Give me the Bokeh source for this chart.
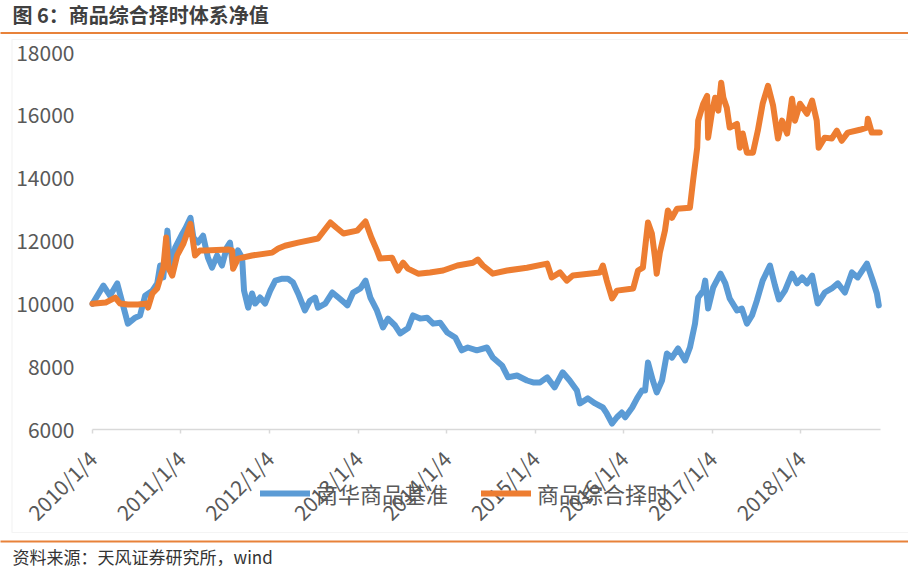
import pandas as pd
from math import pi
from bokeh.plotting import figure
from bokeh.models import (ColumnDataSource, Range1d, FixedTicker, Legend, LegendItem,
                          Label, BoxAnnotation)
from bokeh.embed import file_html
from bokeh.resources import INLINE

title_text = "图 6：商品综合择时体系净值"
source_text = "资料来源：天风证券研究所，wind"
series_names = ["南华商品基准", "商品综合择时"]

blue_dates = [
    "2010-01-04", "2010-02-18", "2010-03-17", "2010-04-16", "2010-05-30", "2010-06-29", "2010-07-19", "2010-08-09", "2010-09-08", "2010-09-28",
    "2010-10-10", "2010-10-23", "2010-11-09", "2010-11-21", "2010-12-11", "2011-01-10", "2011-01-22", "2011-02-12", "2011-02-24", "2011-03-15",
    "2011-04-05", "2011-04-25", "2011-05-12", "2011-06-02", "2011-06-22", "2011-07-12", "2011-07-25", "2011-08-07", "2011-08-27", "2011-09-13",
    "2011-09-21", "2011-10-08", "2011-10-24", "2011-11-06", "2011-11-26", "2011-12-17", "2012-01-07", "2012-01-28", "2012-02-26", "2012-03-20",
    "2012-04-10", "2012-05-01", "2012-05-29", "2012-06-19", "2012-07-10", "2012-07-22", "2012-08-21", "2012-09-19", "2012-10-14", "2012-11-12",
    "2012-11-20", "2012-12-14", "2013-01-13", "2013-02-03", "2013-02-23", "2013-03-22", "2013-04-16", "2013-05-07", "2013-06-05", "2013-06-26",
    "2013-07-28", "2013-08-18", "2013-09-16", "2013-10-15", "2013-11-09", "2013-12-08", "2014-01-06", "2014-02-08", "2014-03-07", "2014-04-01",
    "2014-05-08", "2014-06-19", "2014-07-13", "2014-08-20", "2014-09-14", "2014-10-21", "2014-12-01", "2014-12-26", "2015-01-24", "2015-02-22",
    "2015-03-25", "2015-04-27", "2015-05-26", "2015-06-25", "2015-07-07", "2015-08-09", "2015-09-08", "2015-10-10", "2015-10-26", "2015-11-17",
    "2015-12-07", "2015-12-27", "2016-01-10", "2016-02-08", "2016-02-28", "2016-03-19", "2016-04-01", "2016-04-13", "2016-05-03", "2016-05-19",
    "2016-06-10", "2016-06-30", "2016-07-21", "2016-08-15", "2016-09-13", "2016-10-03", "2016-10-24", "2016-11-06", "2016-11-27", "2016-12-05",
    "2016-12-17", "2017-01-07", "2017-02-06", "2017-02-26", "2017-03-16", "2017-04-15", "2017-05-05", "2017-05-26", "2017-06-16", "2017-07-06",
    "2017-07-30", "2017-08-29", "2017-09-19", "2017-10-05", "2017-10-30", "2017-11-28", "2017-12-19", "2018-01-09", "2018-01-29", "2018-02-19",
    "2018-03-14", "2018-04-12", "2018-05-11", "2018-06-05", "2018-07-04", "2018-08-02", "2018-08-26", "2018-10-03", "2018-10-27", "2018-11-13",
    "2018-11-21",
]
blue_vals = [
    10000, 10580, 10260, 10650, 9370, 9560, 9630, 10260, 10420, 10650,
    11220, 10840, 12330, 11060, 11790, 12240, 12400, 12740, 12110, 11950,
    12170, 11470, 11150, 11540, 11220, 11790, 11950, 11150, 11700, 11470,
    10420, 9880, 10330, 10010, 10200, 10010, 10420, 10740, 10800, 10800,
    10680, 10330, 9790, 10100, 10200, 9880, 10010, 10360, 10200, 10010,
    9950, 10360, 10490, 10740, 10200, 9790, 9250, 9530, 9310, 9060,
    9220, 9630, 9530, 9560, 9370, 9400, 9090, 8930, 8520, 8610,
    8520, 8610, 8290, 8040, 7660, 7720, 7560, 7500, 7500, 7660,
    7340, 7820, 7560, 7240, 6830, 6990, 6830, 6700, 6510, 6190,
    6390, 6540, 6390, 6700, 6990, 7240, 7240, 8130, 7560, 7180,
    7560, 8420, 8290, 8580, 8200, 8610, 9370, 10200, 10420, 10740,
    9850, 10520, 10960, 10650, 10170, 9790, 9850, 9370, 9630, 10100,
    10740, 11220, 10580, 10140, 10420, 10960, 10650, 10840, 10650, 10900,
    10010, 10360, 10490, 10650, 10360, 11000, 10840, 11280, 10740, 10330,
    9950,
]

orange_dates = [
    "2010-01-04", "2010-02-27", "2010-04-08", "2010-04-28", "2010-05-30", "2010-07-11", "2010-08-17", "2010-08-21", "2010-09-08", "2010-09-28",
    "2010-10-10", "2010-10-23", "2010-11-04", "2010-11-13", "2010-11-29", "2010-12-19", "2011-01-14", "2011-02-12", "2011-03-03", "2011-03-23",
    "2011-04-13", "2011-07-17", "2011-08-03", "2011-08-07", "2011-08-27", "2011-10-24", "2012-01-15", "2012-02-09", "2012-03-08", "2012-05-01",
    "2012-07-22", "2012-09-11", "2012-10-05", "2012-11-04", "2012-12-31", "2013-02-03", "2013-02-27", "2013-03-22", "2013-04-04", "2013-05-23",
    "2013-06-17", "2013-07-08", "2013-07-28", "2013-09-08", "2013-10-27", "2013-12-20", "2014-02-17", "2014-04-22", "2014-05-12", "2014-06-02",
    "2014-07-13", "2014-09-10", "2014-12-01", "2015-02-22", "2015-03-13", "2015-04-16", "2015-05-14", "2015-06-08", "2015-09-28", "2015-10-10",
    "2015-10-26", "2015-11-17", "2015-12-07", "2016-02-12", "2016-03-03", "2016-03-23", "2016-04-13", "2016-04-29", "2016-05-12", "2016-05-19",
    "2016-06-01", "2016-06-22", "2016-07-04", "2016-07-21", "2016-08-11", "2016-10-03", "2016-10-16", "2016-11-02", "2016-11-06", "2016-11-27",
    "2016-12-13", "2016-12-17", "2017-01-03", "2017-01-15", "2017-01-28", "2017-02-09", "2017-02-18", "2017-03-04", "2017-03-16", "2017-04-15",
    "2017-04-27", "2017-05-09", "2017-05-26", "2017-06-20", "2017-07-10", "2017-07-30", "2017-08-21", "2017-09-11", "2017-10-01", "2017-10-18",
    "2017-11-08", "2017-11-28", "2017-12-10", "2017-12-31", "2018-01-29", "2018-02-19", "2018-03-10", "2018-03-18", "2018-04-12", "2018-05-11",
    "2018-06-01", "2018-06-21", "2018-07-16", "2018-09-04", "2018-10-03", "2018-10-07", "2018-10-23", "2018-11-25",
]
orange_vals = [
    10000, 10040, 10200, 10010, 9980, 9980, 10010, 9880, 10330, 10490,
    10800, 11150, 12110, 11150, 10900, 11540, 11920, 12550, 11540, 11700,
    11700, 11730, 11700, 11120, 11440, 11540, 11630, 11760, 11850, 11950,
    12080, 12590, 12430, 12240, 12330, 12620, 12110, 11700, 11440, 11470,
    11060, 11310, 11120, 10960, 11000, 11060, 11220, 11310, 11410, 11220,
    10960, 11060, 11150, 11280, 10840, 11000, 10740, 10900, 11000, 11220,
    10740, 10170, 10420, 10490, 11060, 11150, 12590, 12240, 11470, 10960,
    11630, 12330, 12970, 12740, 13030, 13060, 13920, 14970, 15830, 16370,
    16620, 15290, 16150, 16560, 16150, 17040, 16560, 16240, 15610, 15730,
    14970, 15420, 14810, 14810, 15510, 16370, 16940, 16310, 15260, 15830,
    15420, 16530, 15830, 16370, 16050, 16470, 15830, 14970, 15290, 15260,
    15510, 15190, 15450, 15540, 15610, 15890, 15450, 15450,
]

x_tick_dates = ["2010-01-04", "2011-01-04", "2012-01-04", "2013-01-04", "2014-01-04",
                "2015-01-04", "2016-01-04", "2017-01-04", "2018-01-04"]
x_tick_labels = ["2010/1/4", "2011/1/4", "2012/1/4", "2013/1/4", "2014/1/4",
                 "2015/1/4", "2016/1/4", "2017/1/4", "2018/1/4"]
y_ticks = [6000, 8000, 10000, 12000, 14000, 16000, 18000]
x_start, x_end = "2010-01-04", "2018-11-28"
y_start, y_end = 6000, 18000

# ---- layout (pixels) ----
W, H = 908, 570
PLOT_L, PLOT_R, PLOT_T, PLOT_B = 92, 880, 52, 429   # where the axes sit on the canvas

BLUE = "#5B9BD5"
ORANGE = "#ED7D31"
ACCENT = "#E8823A"
TICK_COLOR = "#595959"
FONT = "Noto Sans CJK SC"


def ms(d):
    return float(pd.Timestamp(d).value // 10**6)


# the frame covers the whole canvas; ranges are widened so that the axes
# (drawn at fixed locations) land where the reference chart has them
x0, x1 = ms(x_start), ms(x_end)
ms_per_px = (x1 - x0) / (PLOT_R - PLOT_L)
u_per_px = (y_end - y_start) / (PLOT_B - PLOT_T)
x_range = Range1d(x0 - PLOT_L * ms_per_px, x1 + (W - PLOT_R) * ms_per_px)
y_range = Range1d(y_start - (H - PLOT_B) * u_per_px, y_end + PLOT_T * u_per_px)

p = figure(width=W, height=H, x_axis_type="datetime", output_backend="svg",
           toolbar_location=None, title=None, x_range=x_range, y_range=y_range,
           min_border_left=0, min_border_right=0, min_border_top=0, min_border_bottom=0)
p.outline_line_color = None
p.xgrid.visible = False
p.ygrid.visible = False

src_b = ColumnDataSource(dict(x=pd.to_datetime(blue_dates), y=blue_vals))
src_o = ColumnDataSource(dict(x=pd.to_datetime(orange_dates), y=orange_vals))
r_b = p.line("x", "y", source=src_b, line_color=BLUE, line_width=6,
             line_join="round", line_cap="round")
r_o = p.line("x", "y", source=src_o, line_color=ORANGE, line_width=6,
             line_join="round", line_cap="round")

# x axis
tick_ms = [ms(d) for d in x_tick_dates]
xa = p.xaxis[0]
xa.fixed_location = y_start
xa.bounds = (x0, x1)
xa.ticker = FixedTicker(ticks=tick_ms)
xa.major_label_overrides = {t: lab for t, lab in zip(tick_ms, x_tick_labels)}
xa.major_label_orientation = pi / 4
xa.axis_line_color = "#D9D9D9"
xa.axis_line_width = 1.5
xa.major_tick_line_color = "#D9D9D9"
xa.major_tick_line_width = 1.5
xa.major_tick_in = 0
xa.major_tick_out = 4
xa.minor_tick_line_color = None
xa.major_label_text_font = FONT
xa.major_label_text_font_size = "21px"
xa.major_label_text_color = TICK_COLOR
xa.major_label_standoff = 21

# y axis
ya = p.yaxis[0]
ya.fixed_location = x0
ya.bounds = (y_start, y_end)
ya.ticker = FixedTicker(ticks=y_ticks)
ya.axis_line_color = None
ya.major_tick_line_color = None
ya.minor_tick_line_color = None
ya.major_tick_in = 0
ya.major_tick_out = 0
ya.major_label_standoff = 18
ya.major_label_text_font = FONT
ya.major_label_text_font_size = "21px"
ya.major_label_text_color = TICK_COLOR

# legend
legend = Legend(items=[LegendItem(label=series_names[0], renderers=[r_b]),
                       LegendItem(label=series_names[1], renderers=[r_o])],
                orientation="horizontal", location=(260, H - 509),
                padding=0, margin=0, spacing=33, label_standoff=6,
                glyph_width=50, glyph_height=22, label_height=22,
                label_text_font=FONT, label_text_font_size="22px",
                label_text_color=TICK_COLOR, label_text_baseline="middle",
                border_line_color=None, background_fill_alpha=0)
p.add_layout(legend)


def screen_box(left, right, top, bottom, **kw):
    # canvas pixel coordinates (top-left origin) -> screen units of the frame
    return BoxAnnotation(left=left, right=right, top=H - top, bottom=H - bottom,
                         left_units="screen", right_units="screen",
                         top_units="screen", bottom_units="screen", **kw)


p.add_layout(screen_box(11.5, W + 5, 39, 532, fill_alpha=0, line_color="#D9D9D9",
                        line_width=1.2, level="underlay"))
p.add_layout(screen_box(-2, W + 2, 31.5, 33.5, fill_color=ACCENT, fill_alpha=1,
                        line_color=None))
p.add_layout(screen_box(-2, W + 2, 540, 542, fill_color=ACCENT, fill_alpha=1,
                        line_color=None))

p.add_layout(Label(x=12, y=H - 14, x_units="screen", y_units="screen", text=title_text,
                   text_font=FONT, text_font_size="20px", text_font_style="bold",
                   text_color="#404040", text_baseline="middle"))
p.add_layout(Label(x=12, y=H - 556, x_units="screen", y_units="screen", text=source_text,
                   text_font=FONT, text_font_size="17px",
                   text_color="#333333", text_baseline="middle"))

open("out.html", "w").write(file_html(p, INLINE))
